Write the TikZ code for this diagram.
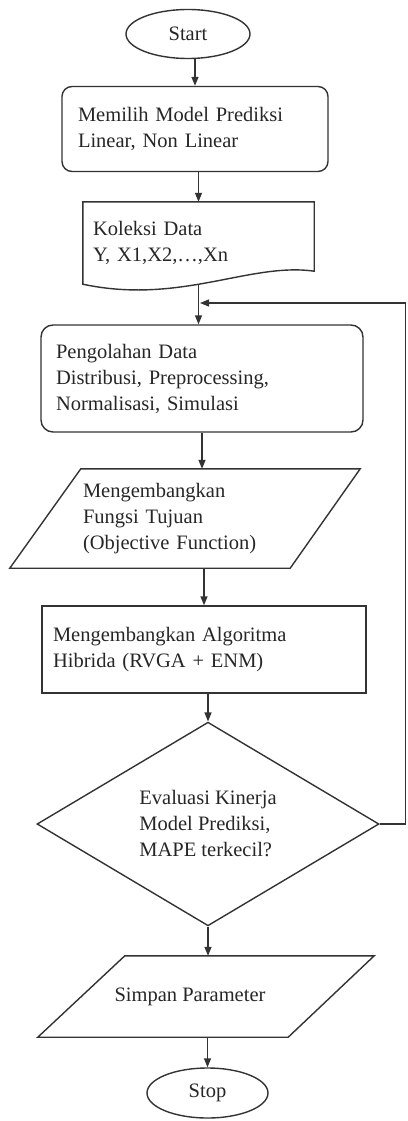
\documentclass[tikz,border=0pt]{standalone}
\usepackage{fontspec}
\setmainfont{Liberation Serif}
\usetikzlibrary{shapes.geometric,arrows.meta}
\begin{document}
\begin{tikzpicture}[x=1pt,y=-1pt,
  every node/.style={font=\fontsize{20.5}{26}\selectfont, text=black!85},
  ln/.style={line width=1.4pt, draw=black!80},
  arr/.style={ln, -{Triangle[length=9pt,width=7pt]}},
  term/.style={ln, ellipse, inner sep=0pt},
  procbox/.style={ln, rectangle, align=left},
  datanode/.style={rectangle, align=left}
]
\useasboundingbox (0,0) rectangle (407,1121);

\node[term, minimum width=124pt, minimum height=49pt] (start) at (188,34) {Start};

\node[procbox, rounded corners=10pt, minimum width=266pt, minimum height=85pt,
  inner xsep=16pt, text width=234pt] (box1) at (195,129)
  {Memilih Model Prediksi\\Linear, Non Linear};

\node[datanode, minimum width=231pt, minimum height=82pt, inner xsep=10pt,
  text width=211pt] (doc) at (198.5,243) {Koleksi Data\\Y, X1,X2,…,Xn};
\draw[ln] (doc.south west) -- (doc.north west) -- (doc.north east)
  -- ([yshift=13pt]doc.south east) .. controls (250,262) and (180,305) .. (doc.south west) -- cycle;

\node[procbox, rounded corners=12pt, minimum width=322pt, minimum height=107pt,
  inner xsep=15pt, text width=292pt] (box3) at (202,378.5)
  {Pengolahan Data\\Distribusi, Preprocessing,\\Normalisasi, Simulasi};

\node[datanode, minimum width=350pt, minimum height=99pt, inner xsep=73pt,
  text width=204pt] (para1) at (185,518.5)
  {Mengembangkan\\Fungsi Tujuan\\(Objective Function)};
\draw[ln] ([xshift=71pt]para1.north west) -- (para1.north east)
  -- ([xshift=-70pt]para1.south east) -- (para1.south west) -- cycle;

\node[procbox, minimum width=324pt, minimum height=87pt, inner xsep=11pt,
  text width=302pt] (box4) at (204,649.5)
  {Mengembangkan Algoritma\\Hibrida (RVGA + ENM)};

\node[ln, diamond, minimum width=342pt, minimum height=194pt, inner sep=0pt,
  align=left] (dec) at (208,824)
  {Evaluasi Kinerja\\Model Prediksi,\\MAPE terkecil?};

\node[datanode, minimum width=304pt, minimum height=81pt, align=center] (para2)
  at (190,996.5) {Simpan Parameter};
\draw[ln] ([xshift=87pt]para2.north west) -- ([xshift=32pt]para2.north east)
  -- ([xshift=-54pt]para2.south east) -- (para2.south west) -- cycle;

\node[term, minimum width=121pt, minimum height=50pt] (stop) at (207.5,1093) {Stop};

\coordinate (rt) at (405.5,303);
\coordinate (fb) at (200,303);

\draw[arr] ([xshift=7pt]start.south) -- ([xshift=7pt]start.south |- box1.north);
\draw[arr] (doc.north |- box1.south) -- (doc.north);
\draw[arr] (doc.south) -- (doc.south |- box3.north);
\draw[arr] (box3.south) -- (box3.south |- para1.north);
\draw[arr] (box4.north |- para1.south) -- (box4.north);
\draw[arr] (dec.north |- box4.south) -- (dec.north);
\draw[arr] (dec.south) -- (dec.south |- para2.north);
\draw[arr] (stop.north |- para2.south) -- (stop.north);
\draw[arr] (dec.east) -| (rt) -- (fb);
\end{tikzpicture}
\end{document}
